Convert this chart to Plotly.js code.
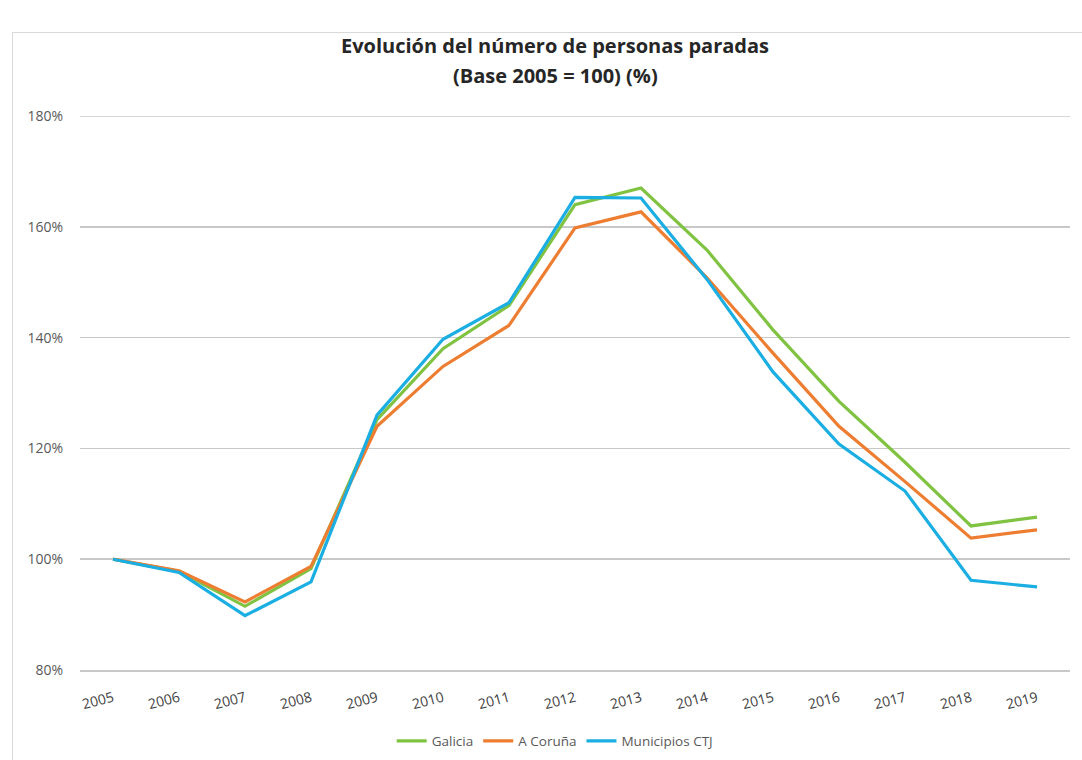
<!DOCTYPE html>
<html>
<head>
<meta charset="utf-8">
<script src="https://cdn.plot.ly/plotly-3.0.1.min.js"></script>
<style>
  html, body { margin: 0; padding: 0; background: #fff; }
  #chart { width: 1082px; height: 760px; }
  #frame { position: absolute; left: 12px; top: 32px; width: 1080px; height: 740px; border: 1px solid #d9d9d9; pointer-events: none; }
</style>
</head>
<body>
<div id="chart"></div>
<div id="frame"></div>
<script>
const years = ["2005","2006","2007","2008","2009","2010","2011","2012","2013","2014","2015","2016","2017","2018","2019"];
const galicia = [100, 97.8, 91.5, 98.3, 125.2, 138.0, 145.8, 164.0, 167.0, 155.8, 141.4, 128.5, 117.5, 106.0, 107.6];
const aCoruna = [100, 97.9, 92.3, 98.7, 124.0, 134.8, 142.2, 159.8, 162.7, 150.8, 137.2, 124.0, 114.0, 103.8, 105.3];
const ctj = [100, 97.6, 89.8, 95.9, 126.0, 139.7, 146.3, 165.3, 165.2, 150.5, 133.8, 120.8, 112.3, 96.2, 95.0];
const seriesNames = ["Galicia", "A Coruña", "Municipios CTJ"];
const yTicks = [80, 100, 120, 140, 160, 180];
const yTickLabels = ["80%", "100%", "120%", "140%", "160%", "180%"];
const titleLines = ["Evolución del número de personas paradas", "(Base 2005 = 100) (%)"];

const colors = ["#80c342", "#ed7d31", "#1aaee2"];
const data = [galicia, aCoruna, ctj].map((vals, i) => ({
  x: years, y: vals, name: seriesNames[i], type: "scatter", mode: "lines",
  line: { color: colors[i], width: 3.2 }
}));

const titleFont = { family: "Open Sans", size: 20, color: "#262626" };
const layout = {
  width: 1082, height: 760,
  margin: { l: 80, r: 12, t: 116, b: 90 },
  paper_bgcolor: "#fff", plot_bgcolor: "#fff",
  font: { family: "Open Sans", color: "#595959" },
  annotations: [
    { text: "<b>" + titleLines[0] + "</b>", xref: "paper", yref: "paper", x: 0.48, y: 1.128,
      xanchor: "center", yanchor: "middle", showarrow: false, font: titleFont },
    { text: "<b>" + titleLines[1] + "</b>", xref: "paper", yref: "paper", x: 0.48, y: 1.074,
      xanchor: "center", yanchor: "middle", showarrow: false, font: titleFont }
  ],
  shapes: [
    { type: "line", xref: "paper", yref: "y", x0: 0, x1: 1, y0: yTicks[yTicks.length - 1], y1: yTicks[yTicks.length - 1],
      line: { color: "#c8c8c8", width: 1.5 }, layer: "below" }
  ],
  xaxis: {
    type: "category", range: [-0.5, 14.5], automargin: false,
    tickangle: -15, tickfont: { size: 14, color: "#404040" },
    showgrid: false, zeroline: false, showline: true, linecolor: "#c8c8c8", linewidth: 1.5,
    ticks: "", ticklabelstandoff: 13, fixedrange: true
  },
  yaxis: {
    range: [80, 180], tickvals: yTicks, ticktext: yTickLabels, automargin: false,
    tickfont: { size: 14, color: "#595959" },
    showgrid: true, gridcolor: "#c8c8c8", gridwidth: 1.5, zeroline: false, showline: false,
    ticks: "", ticklabelstandoff: 16, fixedrange: true
  },
  showlegend: true,
  legend: {
    orientation: "h", x: 0.48, xanchor: "center", yref: "container", y: 0.025, yanchor: "middle",
    font: { size: 13.5, color: "#595959" }, tracegroupgap: 0
  }
};

Plotly.newPlot("chart", data, layout, { displayModeBar: false, staticPlot: true });
</script>
</body>
</html>
